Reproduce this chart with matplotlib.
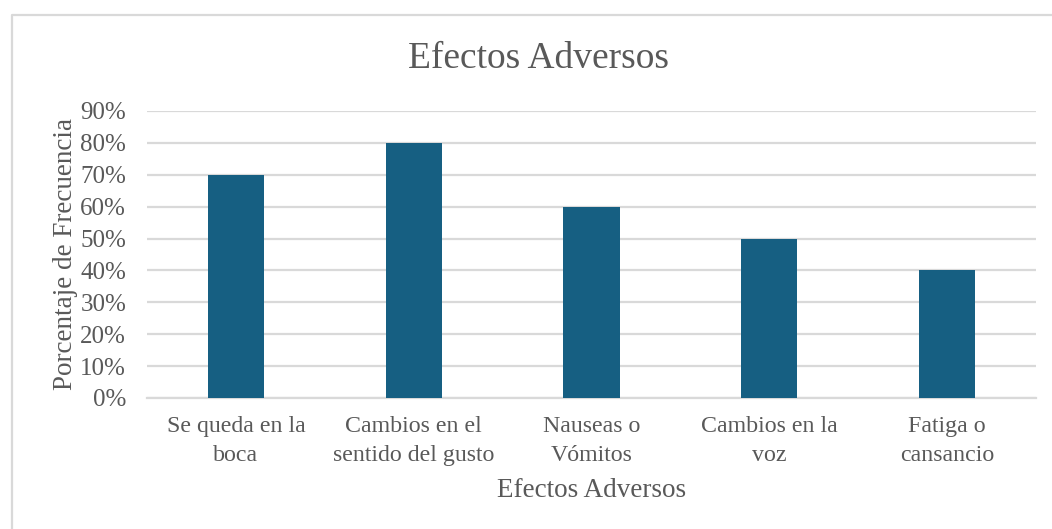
import matplotlib.pyplot as plt
from matplotlib.lines import Line2D
from matplotlib.ticker import PercentFormatter, MultipleLocator

categories = ["Se queda en la\nboca", "Cambios en el\nsentido del gusto",
              "Nauseas o\nVómitos", "Cambios en la\nvoz", "Fatiga o\ncansancio"]
values = [0.70, 0.80, 0.60, 0.50, 0.40]

title = "Efectos Adversos"
xlabel = "Efectos Adversos"
ylabel = "Porcentaje de Frecuencia"

plt.rcParams['font.family'] = ['Liberation Serif', 'DejaVu Serif']
text_color = "#595959"
grid_color = "#d9d9d9"
bar_color = "#165f82"

fig = plt.figure(figsize=(10.52, 5.29), dpi=100)
ax = fig.add_axes([147 / 1052, 1 - 398 / 529, (1036 - 147) / 1052, (398 - 111) / 529])

x = range(len(categories))
ax.bar(x, values, width=0.315, color=bar_color, zorder=3)

ax.set_xlim(-0.5, len(categories) - 0.5)
ax.set_ylim(0, 0.9)
ax.yaxis.set_major_locator(MultipleLocator(0.1))
ax.yaxis.set_major_formatter(PercentFormatter(1.0, decimals=0))
ax.grid(axis='y', color=grid_color, linewidth=1.6, zorder=0)
ax.set_xticks(list(x))
ax.set_xticklabels(categories, fontsize=17.2, color=text_color, linespacing=1.47)
ax.tick_params(axis='y', length=0, labelsize=18, labelcolor=text_color, pad=15)
ax.tick_params(axis='x', length=0, labelcolor=text_color, pad=13)

for side in ['top', 'right', 'left']:
    ax.spines[side].set_visible(False)
ax.spines['bottom'].set_color(grid_color)
ax.spines['bottom'].set_linewidth(1.6)

ax.set_xlabel(xlabel, fontsize=19.5, color=text_color, labelpad=9)
ax.set_ylabel(ylabel, fontsize=19.5, color=text_color, labelpad=2)

fig.text(538 / 1052, 1 - 59 / 529, title, fontsize=27, color=text_color,
         ha='center', va='center')

# chart frame (left and top edges)
fig.add_artist(Line2D([11.5 / 1052, 11.5 / 1052, 1.0], [0.0, 1 - 14.5 / 529, 1 - 14.5 / 529],
                      transform=fig.transFigure, color=grid_color, linewidth=1.6))

fig.savefig("out.png", dpi=100, facecolor="white")
